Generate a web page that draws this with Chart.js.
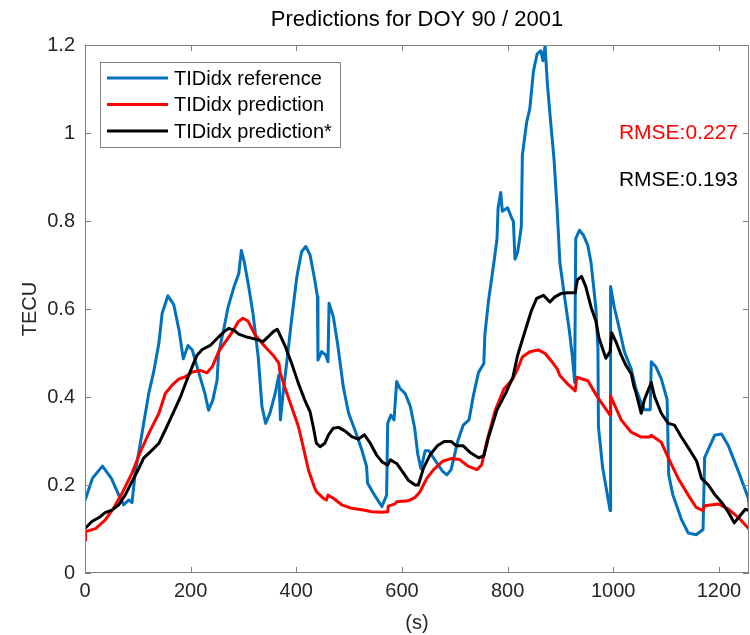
<!DOCTYPE html>
<html>
<head>
<meta charset="utf-8">
<script src="https://cdn.jsdelivr.net/npm/chart.js@4.4.1/dist/chart.umd.min.js"></script>
<style>
  html, body { margin: 0; padding: 0; background: #fff; }
</style>
</head>
<body>
<canvas id="chart" width="750" height="635"></canvas>
<script>
const FONT = "'Liberation Sans', Arial, Helvetica, sans-serif";
const MATLAB_BLUE = "#0072BD";
const MATLAB_RED = "#FF0000";
const AXIS_GREY = "#808080";
const TEXT_DARK = "#262626";

const TITLE = "Predictions for DOY 90 / 2001";
const seriesNames = ["TIDidx reference", "TIDidx prediction", "TIDidx prediction*"];
const rmseLabels = ["RMSE:0.227", "RMSE:0.193"];

const xTicks = [0, 200, 400, 600, 800, 1000, 1200];
const yTicks = [0, 0.2, 0.4, 0.6, 0.8, 1, 1.2];

// TIDidx reference (blue)
const refTime = [0,14,33,50,64,73,83,89,95,108,121,130,140,146,157,168,178,186,195,203,
  215,227,234,242,250,253,263,271,282,291,296,301,310,318,328,335,342,350,360,367,
  370,375,383,391,401,410,418,426,435,440,441,448,456,460,462,470,478,489,499,511,
  524,533,535,546,562,571,573,579,585,590,596,606,616,624,630,636,644,651,664,677,
  685,693,706,716,727,735,745,755,757,764,774,780,782,787,790,800,808,811,814,819,
  826,828,836,842,849,856,863,867,871,875,881,888,894,899,907,917,923,927,929,936,
  944,952,958,967,971,972,980,989,994,995,1002,1011,1021,1034,1043,1053,1059,1070,1072,1081,
  1091,1102,1105,1113,1129,1142,1157,1170,1173,1183,1192,1205,1218,1237,1256,1258];
const refValue = [0.165,0.215,0.243,0.215,0.177,0.155,0.166,0.16,0.227,0.318,
  0.41,0.457,0.523,0.59,0.63,0.61,0.552,0.487,0.517,0.507,
  0.457,0.408,0.37,0.393,0.438,0.5,0.556,0.605,0.65,0.68,
  0.733,0.71,0.65,0.59,0.49,0.378,0.34,0.363,0.408,0.45,
  0.348,0.408,0.49,0.575,0.673,0.73,0.742,0.723,0.666,0.628,
  0.484,0.503,0.495,0.48,0.613,0.583,0.522,0.423,0.363,0.325,
  0.28,0.242,0.204,0.181,0.151,0.177,0.34,0.359,0.348,0.435,
  0.42,0.408,0.378,0.33,0.27,0.237,0.278,0.278,0.254,0.231,
  0.223,0.235,0.301,0.336,0.348,0.402,0.456,0.476,0.542,0.62,
  0.705,0.76,0.83,0.865,0.822,0.83,0.806,0.799,0.713,0.729,
  0.787,0.95,1.024,1.055,1.141,1.18,1.187,1.164,1.198,1.117,
  1.032,0.939,0.822,0.705,0.635,0.55,0.488,0.433,0.76,0.779,
  0.767,0.744,0.705,0.604,0.511,0.332,0.239,0.177,0.142,0.651,
  0.604,0.558,0.503,0.464,0.418,0.386,0.371,0.371,0.48,0.468,
  0.441,0.394,0.223,0.177,0.122,0.091,0.087,0.099,0.262,0.289,
  0.313,0.316,0.289,0.231,0.169,0.14];

// TIDidx prediction (red)
const predTime = [0,1,20,38,54,70,89,105,121,140,152,165,178,190,203,219,231,241,253,266,
  279,290,299,309,322,341,356,367,369,378,391,404,413,423,434,438,451,457,460,470,
  486,505,527,543,562,573,574,587,590,612,625,634,647,660,677,693,709,725,742,751,
  761,777,793,810,819,828,842,858,871,884,894,899,914,928,931,952,969,994,995,1015,
  1034,1053,1069,1072,1091,1104,1123,1142,1157,1170,1173,1199,1218,1237,1258];
const predValue = [0.075,0.094,0.101,0.12,0.147,0.181,0.227,0.276,0.318,0.363,
  0.408,0.427,0.441,0.446,0.457,0.46,0.455,0.469,0.503,0.526,
  0.548,0.571,0.579,0.572,0.541,0.514,0.495,0.477,0.457,0.423,
  0.378,0.333,0.287,0.234,0.196,0.185,0.17,0.166,0.177,0.17,
  0.155,0.147,0.143,0.139,0.138,0.139,0.152,0.157,0.162,0.164,
  0.172,0.184,0.215,0.235,0.254,0.26,0.258,0.243,0.235,0.246,
  0.301,0.371,0.418,0.441,0.464,0.491,0.503,0.507,0.499,0.48,
  0.464,0.449,0.429,0.414,0.445,0.437,0.402,0.359,0.402,0.348,
  0.32,0.309,0.309,0.313,0.297,0.262,0.215,0.177,0.149,0.142,
  0.153,0.157,0.145,0.126,0.099];

// TIDidx prediction* (black)
const starTime = [0,13,29,38,51,64,76,89,102,111,124,140,152,165,181,193,203,212,222,238,
  250,263,272,282,291,304,325,337,347,356,364,369,378,391,404,416,426,432,438,445,
  454,461,470,480,492,505,517,529,540,552,562,573,578,590,603,612,625,631,641,654,
  667,680,693,703,716,729,745,755,764,780,797,810,819,829,845,855,868,880,889,901,
  914,928,932,940,948,958,967,973,986,994,997,1005,1015,1024,1034,1039,1043,1053,1059,1072,
  1078,1091,1104,1116,1129,1142,1158,1167,1180,1193,1205,1218,1229,1240,1250,1258];
const starValue = [0.101,0.117,0.128,0.137,0.143,0.155,0.177,0.208,0.238,0.261,
  0.276,0.295,0.325,0.359,0.401,0.439,0.469,0.495,0.508,0.518,
  0.533,0.548,0.556,0.552,0.543,0.537,0.531,0.526,0.537,0.548,
  0.554,0.541,0.518,0.477,0.431,0.393,0.367,0.333,0.295,0.287,
  0.295,0.314,0.329,0.331,0.323,0.31,0.304,0.314,0.295,0.268,
  0.253,0.245,0.257,0.249,0.227,0.211,0.2,0.2,0.239,0.27,
  0.289,0.299,0.299,0.289,0.289,0.274,0.262,0.266,0.309,0.371,
  0.41,0.445,0.495,0.534,0.596,0.624,0.631,0.616,0.627,0.635,
  0.637,0.637,0.666,0.674,0.651,0.604,0.573,0.534,0.488,0.503,
  0.546,0.526,0.495,0.472,0.453,0.425,0.41,0.363,0.394,0.433,
  0.402,0.363,0.34,0.336,0.309,0.285,0.254,0.215,0.2,0.177,
  0.161,0.138,0.114,0.13,0.145,0.142];

function toPoints(times, values) {
    return times.map((t, i) => ({ x: t, y: values[i] }));
}

function lineSet(label, times, values, color, order) {
    return {
        label: label,
        data: toPoints(times, values),
        borderColor: color,
        backgroundColor: color,
        borderWidth: 3,
        pointRadius: 0,
        tension: 0,
        borderJoinStyle: "round",
        borderCapStyle: "round",
        order: order
    };
}

// box, inward ticks, title, legend and RMSE notes in MATLAB style
const matlabFrame = {
    id: "matlabFrame",
    afterDraw(chart) {
        const { ctx, chartArea: a, scales } = chart;
        const tl = 6;
        ctx.save();
        ctx.strokeStyle = AXIS_GREY;
        ctx.lineWidth = 1;
        ctx.strokeRect(a.left + 0.5, a.top + 0.5, a.right - a.left - 1, a.bottom - a.top - 1);
        ctx.beginPath();
        for (const v of xTicks) {
            const px = Math.round(scales.x.getPixelForValue(v)) + 0.5;
            ctx.moveTo(px, a.bottom); ctx.lineTo(px, a.bottom - tl);
            ctx.moveTo(px, a.top); ctx.lineTo(px, a.top + tl);
        }
        for (const v of yTicks) {
            const py = Math.round(scales.y.getPixelForValue(v)) + 0.5;
            ctx.moveTo(a.left, py); ctx.lineTo(a.left + tl, py);
            ctx.moveTo(a.right, py); ctx.lineTo(a.right - tl, py);
        }
        ctx.stroke();

        // title
        ctx.fillStyle = "#000";
        ctx.font = "22px " + FONT;
        ctx.textAlign = "center";
        ctx.textBaseline = "middle";
        ctx.fillText(TITLE, (a.left + a.right) / 2, 20);

        // legend
        const lx = 100, ly = 62, lw = 240, lh = 85;
        ctx.fillStyle = "#fff";
        ctx.fillRect(lx, ly, lw, lh);
        ctx.strokeStyle = AXIS_GREY;
        ctx.strokeRect(lx + 0.5, ly + 0.5, lw, lh);
        ctx.font = "20px " + FONT;
        ctx.textAlign = "left";
        chart.data.datasets.forEach((ds, i) => {
            const y = 78 + i * 26.5;
            ctx.strokeStyle = ds.borderColor;
            ctx.lineWidth = 3;
            ctx.beginPath();
            ctx.moveTo(107, y); ctx.lineTo(168, y);
            ctx.stroke();
            ctx.fillStyle = "#000";
            ctx.fillText(ds.label, 174, y + 1);
        });

        // RMSE notes
        ctx.font = "21px " + FONT;
        ctx.textAlign = "right";
        ctx.fillStyle = MATLAB_RED;
        ctx.fillText(rmseLabels[0], 738, 133);
        ctx.fillStyle = "#000";
        ctx.fillText(rmseLabels[1], 738, 180);
        ctx.restore();
    }
};

new Chart(document.getElementById("chart"), {
    type: "line",
    data: {
        datasets: [
            lineSet(seriesNames[0], refTime, refValue, MATLAB_BLUE, 3),
            lineSet(seriesNames[1], predTime, predValue, MATLAB_RED, 2),
            lineSet(seriesNames[2], starTime, starValue, "#000000", 1)
        ]
    },
    options: {
        responsive: false,
        animation: false,
        devicePixelRatio: 1,
        layout: { padding: { top: 45, right: 1, left: 0, bottom: 0 } },
        plugins: {
            legend: { display: false },
            title: { display: false },
            tooltip: { enabled: false }
        },
        scales: {
            x: {
                type: "linear",
                min: 0,
                max: 1257,
                afterFit: s => { s.height = 62; },
                afterBuildTicks: s => { s.ticks = xTicks.map(v => ({ value: v })); },
                grid: { display: false, drawTicks: false },
                border: { display: false },
                ticks: {
                    padding: 6,
                    color: TEXT_DARK,
                    font: { family: FONT, size: 20 },
                    maxRotation: 0,
                    callback: v => String(v)
                },
                title: {
                    display: true,
                    text: "(s)",
                    color: TEXT_DARK,
                    font: { family: FONT, size: 20 },
                    padding: { top: 0, bottom: 0 }
                }
            },
            y: {
                min: 0,
                max: 1.2,
                afterFit: s => { s.width = 85; },
                afterBuildTicks: s => { s.ticks = yTicks.map(v => ({ value: v })); },
                grid: { display: false, drawTicks: false },
                border: { display: false },
                ticks: {
                    padding: 10,
                    color: TEXT_DARK,
                    font: { family: FONT, size: 20 },
                    callback: v => String(+v.toFixed(1))
                },
                title: {
                    display: true,
                    text: "TECU",
                    color: TEXT_DARK,
                    font: { family: FONT, size: 20 },
                    padding: { top: 18, bottom: 0 }
                }
            }
        }
    },
    plugins: [matlabFrame]
});
</script>
</body>
</html>
